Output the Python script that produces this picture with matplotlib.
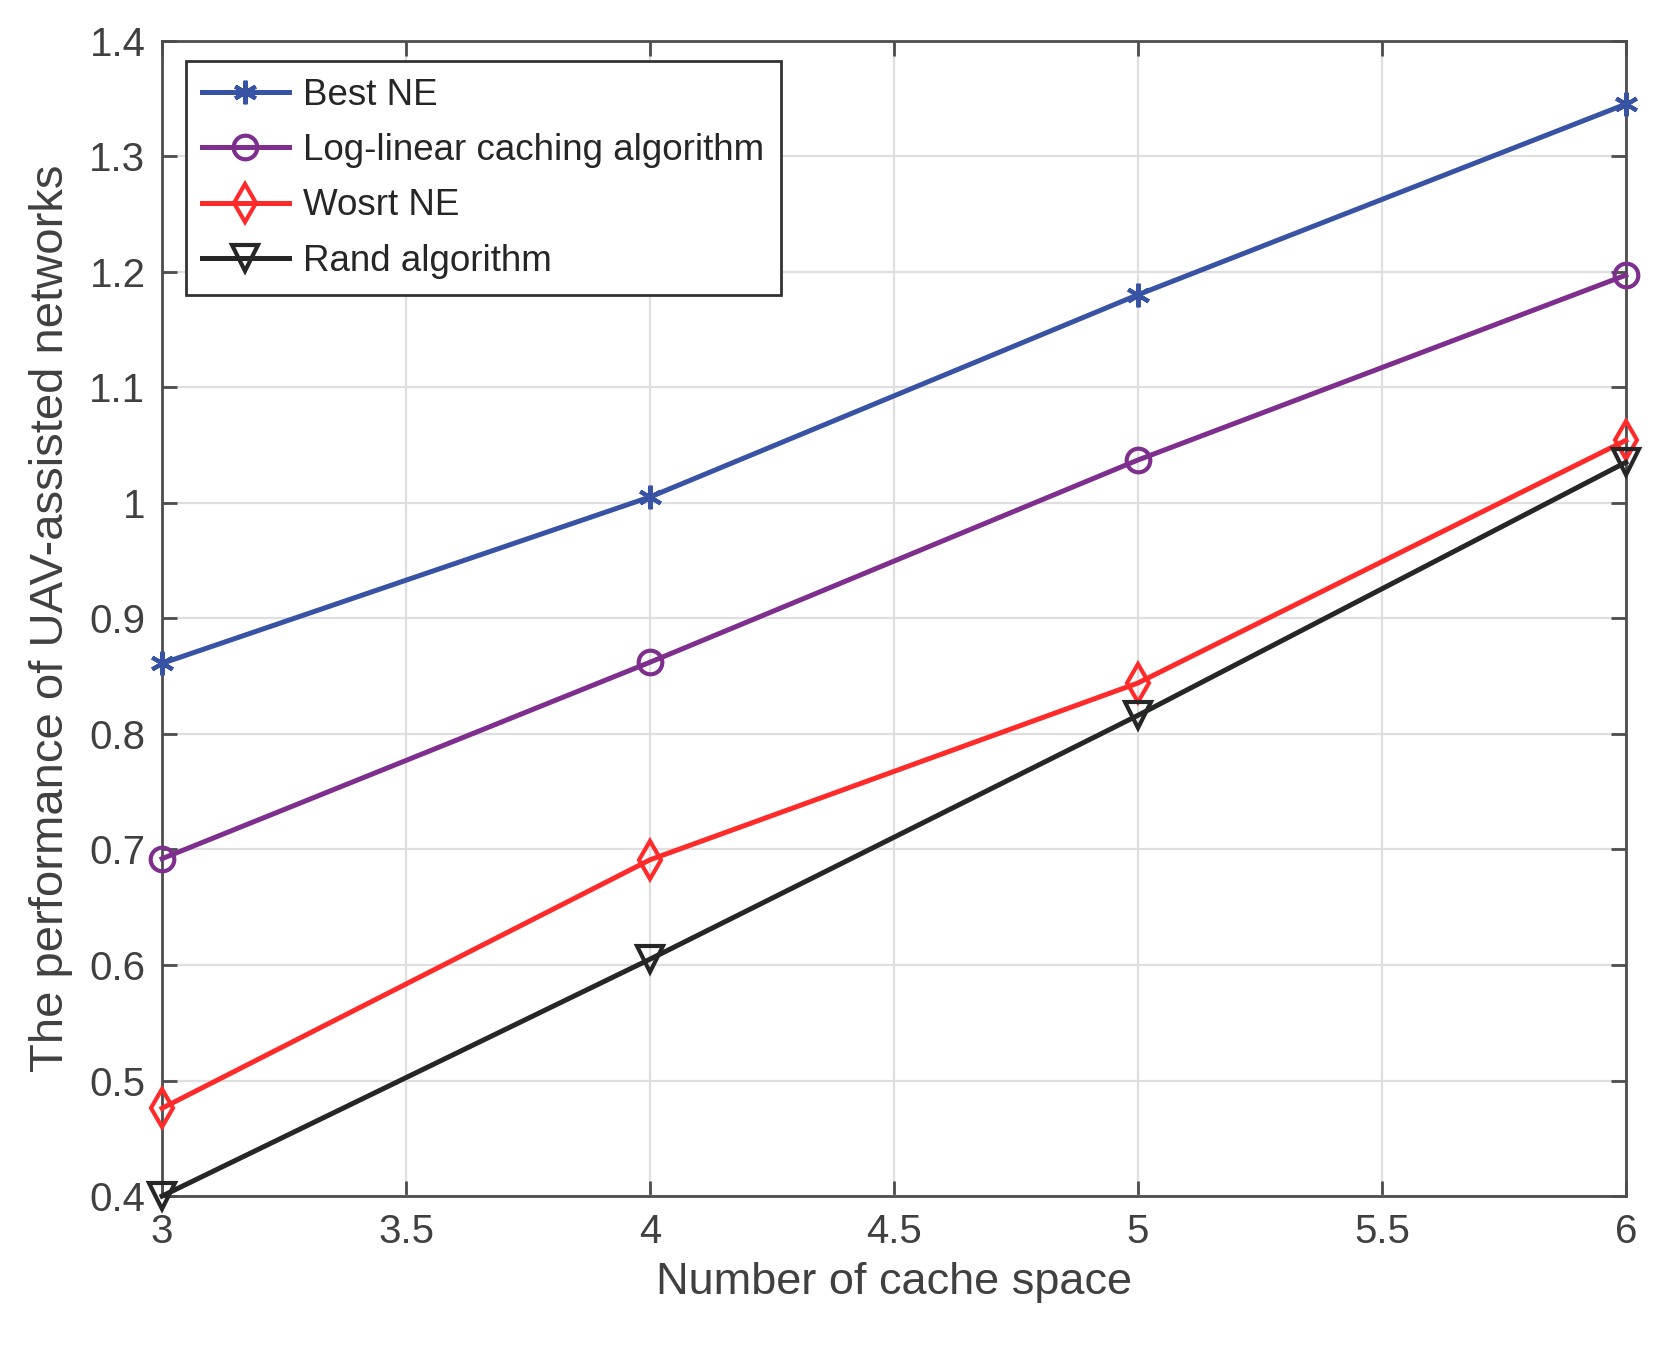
import matplotlib
matplotlib.use('Agg')
from matplotlib import pyplot as plt

# cache space on x axis
cache_space = [3, 4, 5, 6]
best_ne = [0.861, 1.005, 1.180, 1.345]
log_linear = [0.692, 0.862, 1.037, 1.197]
worst_ne = [0.476, 0.691, 0.844, 1.054]
rand_alg = [0.400, 0.605, 0.816, 1.035]

labels = ['Best NE', 'Log-linear caching algorithm', 'Wosrt NE', 'Rand algorithm']
xticks = [3, 3.5, 4, 4.5, 5, 5.5, 6]
xtick_labels = ['3', '3.5', '4', '4.5', '5', '5.5', '6']
yticks = [0.4, 0.5, 0.6, 0.7, 0.8, 0.9, 1.0, 1.1, 1.2, 1.3, 1.4]
ytick_labels = ['0.4', '0.5', '0.6', '0.7', '0.8', '0.9', '1', '1.1', '1.2', '1.3', '1.4']

plt.rcParams['font.family'] = ['Liberation Sans', 'DejaVu Sans']
txt_col = '#404040'
ax_col = '#4d4d4d'

fig = plt.figure(figsize=(16.59, 13.53), dpi=100)
ax = fig.add_axes([0.0977, 0.116, 0.8823, 0.854])

#四条曲线
style = dict(lw=3.6, ms=17, mew=3, clip_on=False, zorder=3)
ax.plot(cache_space, best_ne, color='#3953a4', marker=(6, 2, 0), label=labels[0], **style)
ax.plot(cache_space, log_linear, color='#7e2f8e', marker='o', mfc='none', label=labels[1], **style)
ax.plot(cache_space, worst_ne, color='#ff2a2a', marker='d', mfc='none', label=labels[2],
        **dict(style, ms=19))
ax.plot(cache_space, rand_alg, color='#262626', marker='v', mfc='none', label=labels[3],
        **dict(style, ms=19))

ax.set_xlim(3, 6)
ax.set_ylim(0.4, 1.4)
ax.set_xticks(xticks)
ax.set_xticklabels(xtick_labels)
ax.set_yticks(yticks)
ax.set_yticklabels(ytick_labels)

ax.grid(True, color='#dfdfdf', lw=1.6)
ax.set_axisbelow(True)
for s in ax.spines.values():
    s.set_color(ax_col)
    s.set_linewidth(2)
ax.tick_params(direction='in', length=11, width=2, colors=ax_col, labelcolor=txt_col,
               labelsize=29, top=True, right=True, pad=12)

ax.set_xlabel('Number of cache space', fontsize=32.5, color=txt_col, labelpad=8)
ax.set_ylabel('The performance of UAV-assisted networks', fontsize=34, color=txt_col, labelpad=12)

leg = ax.legend(loc='upper left', bbox_to_anchor=(0.016, 0.982), fontsize=26.5, fancybox=False,
                framealpha=1, edgecolor='#333333', handlelength=2.35, handletextpad=0.4,
                borderpad=0.45, labelspacing=0.55, borderaxespad=0)
leg.get_frame().set_linewidth(2)
for t in leg.get_texts():
    t.set_color('#262626')

plt.savefig('out.png', dpi=100)
